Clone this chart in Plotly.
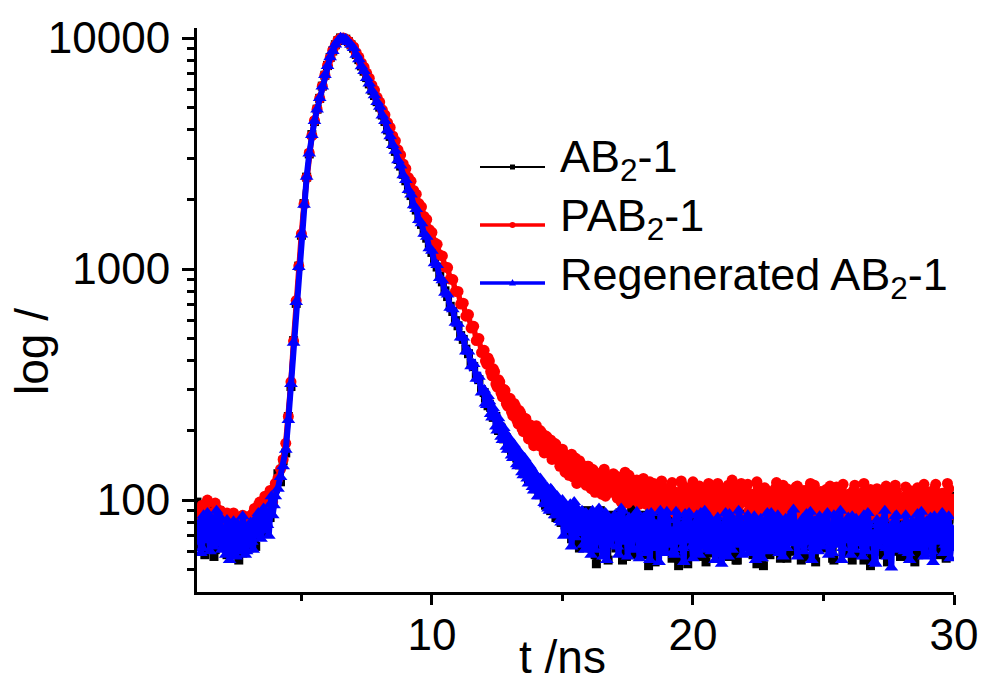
import plotly.graph_objects as go

# time axis (ns), channels every 0.1 ns
t_ns = [
    1.0, 1.1, 1.2, 1.3, 1.4, 1.5, 1.6, 1.7, 1.8, 1.9,
    2.0, 2.1, 2.2, 2.3, 2.4, 2.5, 2.6, 2.7, 2.8, 2.9,
    3.0, 3.1, 3.2, 3.3, 3.4, 3.5, 3.6, 3.7, 3.8, 3.9,
    4.0, 4.1, 4.2, 4.3, 4.4, 4.5, 4.6, 4.7, 4.8, 4.9,
    5.0, 5.1, 5.2, 5.3, 5.4, 5.5, 5.6, 5.7, 5.8, 5.9,
    6.0, 6.1, 6.2, 6.3, 6.4, 6.5, 6.6, 6.7, 6.8, 6.9,
    7.0, 7.1, 7.2, 7.3, 7.4, 7.5, 7.6, 7.7, 7.8, 7.9,
    8.0, 8.1, 8.2, 8.3, 8.4, 8.5, 8.6, 8.7, 8.8, 8.9,
    9.0, 9.1, 9.2, 9.3, 9.4, 9.5, 9.6, 9.7, 9.8, 9.9,
    10.0, 10.1, 10.2, 10.3, 10.4, 10.5, 10.6, 10.7, 10.8, 10.9,
    11.0, 11.1, 11.2, 11.3, 11.4, 11.5, 11.6, 11.7, 11.8, 11.9,
    12.0, 12.1, 12.2, 12.3, 12.4, 12.5, 12.6, 12.7, 12.8, 12.9,
    13.0, 13.1, 13.2, 13.3, 13.4, 13.5, 13.6, 13.7, 13.8, 13.9,
    14.0, 14.1, 14.2, 14.3, 14.4, 14.5, 14.6, 14.7, 14.8, 14.9,
    15.0, 15.1, 15.2, 15.3, 15.4, 15.5, 15.6, 15.7, 15.8, 15.9,
    16.0, 16.1, 16.2, 16.3, 16.4, 16.5, 16.6, 16.7, 16.8, 16.9,
    17.0, 17.1, 17.2, 17.3, 17.4, 17.5, 17.6, 17.7, 17.8, 17.9,
    18.0, 18.1, 18.2, 18.3, 18.4, 18.5, 18.6, 18.7, 18.8, 18.9,
    19.0, 19.1, 19.2, 19.3, 19.4, 19.5, 19.6, 19.7, 19.8, 19.9,
    20.0, 20.1, 20.2, 20.3, 20.4, 20.5, 20.6, 20.7, 20.8, 20.9,
    21.0, 21.1, 21.2, 21.3, 21.4, 21.5, 21.6, 21.7, 21.8, 21.9,
    22.0, 22.1, 22.2, 22.3, 22.4, 22.5, 22.6, 22.7, 22.8, 22.9,
    23.0, 23.1, 23.2, 23.3, 23.4, 23.5, 23.6, 23.7, 23.8, 23.9,
    24.0, 24.1, 24.2, 24.3, 24.4, 24.5, 24.6, 24.7, 24.8, 24.9,
    25.0, 25.1, 25.2, 25.3, 25.4, 25.5, 25.6, 25.7, 25.8, 25.9,
    26.0, 26.1, 26.2, 26.3, 26.4, 26.5, 26.6, 26.7, 26.8, 26.9,
    27.0, 27.1, 27.2, 27.3, 27.4, 27.5, 27.6, 27.7, 27.8, 27.9,
    28.0, 28.1, 28.2, 28.3, 28.4, 28.5, 28.6, 28.7, 28.8, 28.9,
    29.0, 29.1, 29.2, 29.3, 29.4, 29.5, 29.6, 29.7, 29.8, 29.9,
    30.0,
]

# extra in-between channels (noisy baseline and tail are sampled more densely)
t_mid = [
    1.05, 1.15, 1.25, 1.35, 1.45, 1.55, 1.65, 1.75, 1.85, 1.95,
    2.05, 2.15, 2.25, 2.35, 2.45, 2.55, 2.65, 2.75, 2.85, 2.95,
    3.05, 3.15, 3.25, 3.35, 3.45, 3.55, 3.65, 3.75, 3.85, 3.95,
    12.05, 12.15, 12.25, 12.35, 12.45, 12.55, 12.65, 12.75, 12.85, 12.95,
    13.05, 13.15, 13.25, 13.35, 13.45, 13.55, 13.65, 13.75, 13.85, 13.95,
    14.05, 14.15, 14.25, 14.35, 14.45, 14.55, 14.65, 14.75, 14.85, 14.95,
    15.05, 15.15, 15.25, 15.35, 15.45, 15.55, 15.65, 15.75, 15.85, 15.95,
    16.05, 16.15, 16.25, 16.35, 16.45, 16.55, 16.65, 16.75, 16.85, 16.95,
    17.05, 17.15, 17.25, 17.35, 17.45, 17.55, 17.65, 17.75, 17.85, 17.95,
    18.05, 18.15, 18.25, 18.35, 18.45, 18.55, 18.65, 18.75, 18.85, 18.95,
    19.05, 19.15, 19.25, 19.35, 19.45, 19.55, 19.65, 19.75, 19.85, 19.95,
    20.05, 20.15, 20.25, 20.35, 20.45, 20.55, 20.65, 20.75, 20.85, 20.95,
    21.05, 21.15, 21.25, 21.35, 21.45, 21.55, 21.65, 21.75, 21.85, 21.95,
    22.05, 22.15, 22.25, 22.35, 22.45, 22.55, 22.65, 22.75, 22.85, 22.95,
    23.05, 23.15, 23.25, 23.35, 23.45, 23.55, 23.65, 23.75, 23.85, 23.95,
    24.05, 24.15, 24.25, 24.35, 24.45, 24.55, 24.65, 24.75, 24.85, 24.95,
    25.05, 25.15, 25.25, 25.35, 25.45, 25.55, 25.65, 25.75, 25.85, 25.95,
    26.05, 26.15, 26.25, 26.35, 26.45, 26.55, 26.65, 26.75, 26.85, 26.95,
    27.05, 27.15, 27.25, 27.35, 27.45, 27.55, 27.65, 27.75, 27.85, 27.95,
    28.05, 28.15, 28.25, 28.35, 28.45, 28.55, 28.65, 28.75, 28.85, 28.95,
    29.05, 29.15, 29.25, 29.35, 29.45, 29.55, 29.65, 29.75, 29.85, 29.95,
]

# counts: AB2-1
ab2_1 = [
    98, 64, 77, 58, 83, 70, 92, 61, 75, 68,
    79, 63, 71, 85, 60, 74, 55, 80, 66, 72,
    62, 79, 68, 88, 72, 83, 76, 94, 84, 100,
    112, 130, 120, 148, 160, 230, 310, 490, 710, 1030,
    1400, 1920, 2500, 3150, 3820, 4350, 4920, 5480, 6190, 6900,
    7600, 8240, 8790, 9350, 9750, 10010, 9970, 9890, 9640, 9340,
    9030, 8490, 8060, 7570, 7180, 6740, 6330, 5940, 5640, 5300,
    5020, 4640, 4350, 4000, 3750, 3460, 3230, 2980, 2790, 2570,
    2410, 2220, 2080, 1910, 1800, 1650, 1560, 1440, 1360, 1250,
    1180, 1080, 1020, 930, 880, 805, 760, 690, 655, 598,
    568, 515, 496, 450, 430, 390, 378, 342, 332, 300,
    292, 264, 260, 236, 230, 208, 208, 188, 189, 172,
    174, 158, 161, 146, 150, 135, 140, 124, 130, 116,
    120, 108, 115, 100, 108, 94, 104, 90, 98, 86,
    95, 78, 89, 72, 92, 84, 66, 88, 78, 70,
    84, 62, 80, 53, 87, 70, 74, 60, 86, 68,
    78, 66, 88, 55, 73, 82, 64, 90, 58, 76,
    70, 86, 62, 52, 79, 72, 84, 60, 74, 88,
    65, 78, 56, 82, 70, 91, 61, 74, 53, 80,
    72, 60, 85, 66, 77, 54, 81, 69, 88, 63,
    79, 70, 62, 86, 57, 74, 80, 55, 72, 87,
    63, 77, 90, 58, 74, 66, 79, 52, 85, 69,
    75, 60, 82, 70, 64, 88, 56, 73, 80, 67,
    84, 62, 71, 57, 87, 68, 76, 54, 82, 65,
    70, 89, 63, 72, 55, 80, 74, 66, 86, 59,
    68, 55, 79, 83, 64, 74, 61, 77, 52, 85,
    72, 66, 86, 58, 76, 69, 83, 60, 71, 79,
    64, 88, 57, 73, 68, 54, 80, 75, 62, 84,
    77, 61, 90, 68, 58, 79, 70, 56, 83, 98,
    102,
]
ab2_1_mid = [
    72, 88, 60, 79, 66, 84, 57, 74, 90, 65,
    70, 58, 82, 66, 76, 62, 71, 59, 84, 68,
    70, 85, 63, 77, 90, 72, 82, 98, 88, 106,
    276, 256, 252, 228, 230, 200, 205, 184, 186, 168,
    164, 156, 152, 142, 146, 130, 136, 122, 126, 112,
    112, 106, 110, 95, 102, 90, 98, 84, 94, 80,
    86, 74, 92, 68, 80, 88, 62, 82, 72, 90,
    70, 84, 58, 76, 90, 64, 80, 55, 73, 85,
    62, 80, 70, 86, 57, 74, 92, 60, 78, 68,
    82, 58, 75, 88, 66, 54, 79, 70, 86, 61,
    73, 87, 62, 76, 52, 84, 68, 90, 64, 71,
    80, 66, 57, 89, 72, 63, 85, 59, 76, 92,
    58, 83, 74, 65, 90, 68, 55, 81, 64, 76,
    85, 70, 61, 80, 53, 88, 72, 66, 77, 58,
    68, 90, 73, 56, 84, 62, 79, 88, 60, 74,
    71, 55, 86, 77, 63, 82, 58, 90, 69, 76,
    62, 78, 84, 56, 88, 66, 72, 60, 81, 70,
    87, 73, 58, 69, 90, 55, 82, 64, 78, 61,
    60, 84, 71, 79, 54, 88, 66, 75, 90, 57,
    79, 69, 85, 62, 76, 91, 58, 72, 66, 87,
    68, 82, 59, 88, 74, 63, 92, 80, 70, 104,
]

# PAB2-1
pab2_1 = [
    84, 72, 95, 78, 100, 70, 88, 97, 76, 90,
    82, 74, 86, 70, 88, 66, 84, 76, 80, 72,
    85, 78, 92, 80, 98, 86, 104, 90, 110, 98,
    118, 124, 136, 150, 176, 230, 325, 488, 730, 1030,
    1420, 1910, 2490, 3180, 3780, 4390, 4920, 5480, 6190, 6900,
    7610, 8200, 8830, 9310, 9790, 9990, 10010, 9860, 9680, 9370,
    9150, 8640, 8270, 7800, 7480, 7050, 6700, 6250, 5950, 5540,
    5280, 4890, 4650, 4300, 4100, 3770, 3590, 3280, 3120, 2850,
    2720, 2490, 2400, 2190, 2110, 1920, 1860, 1690, 1640, 1480,
    1440, 1300, 1280, 1150, 1140, 1020, 1015, 905, 900, 800,
    800, 705, 712, 625, 635, 555, 565, 490, 500, 435,
    445, 388, 400, 345, 360, 308, 325, 280, 298, 255,
    275, 232, 255, 214, 238, 198, 225, 184, 210, 172,
    210, 172, 196, 160, 188, 178, 150, 176, 166, 140,
    166, 132, 156, 138, 126, 152, 120, 144, 134, 116,
    140, 112, 134, 118, 130, 106, 136, 114, 126, 108,
    128, 102, 120, 110, 132, 97, 114, 122, 100, 116,
    104, 124, 96, 112, 100, 118, 92, 108, 121, 95,
    110, 94, 119, 88, 104, 99, 116, 90, 108, 97,
    120, 91, 104, 112, 86, 102, 118, 93, 107, 89,
    114, 100, 88, 110, 96, 122, 90, 104, 85, 112,
    98, 117, 87, 106, 92, 113, 101, 84, 110, 95,
    108, 89, 119, 97, 86, 104, 112, 91, 100, 83,
    115, 96, 88, 106, 99, 118, 87, 103, 92, 109,
    90, 111, 84, 101, 95, 114, 88, 106, 97, 83,
    104, 92, 116, 86, 99, 108, 82, 96, 111, 89,
    97, 84, 106, 93, 115, 87, 100, 81, 109, 94,
    86, 103, 92, 110, 83, 98, 113, 88, 101, 95,
    108, 85, 96, 117, 89, 102, 84, 99, 112, 90,
    98,
]
pab2_1_mid = [
    90, 77, 84, 96, 74, 86, 79, 92, 83, 71,
    78, 88, 72, 80, 75, 84, 70, 86, 77, 82,
    74, 88, 84, 95, 90, 82, 98, 102, 94, 112,
    400, 412, 360, 370, 318, 332, 290, 302, 262, 276,
    240, 262, 222, 244, 204, 226, 193, 212, 180, 198,
    180, 200, 168, 190, 160, 182, 152, 174, 148, 164,
    150, 136, 128, 158, 140, 118, 148, 130, 124, 140,
    120, 136, 108, 128, 116, 132, 104, 124, 112, 130,
    110, 126, 98, 118, 106, 128, 100, 112, 122, 96,
    116, 98, 108, 120, 94, 110, 104, 117, 90, 112,
    102, 115, 92, 108, 98, 121, 94, 104, 113, 88,
    106, 96, 115, 90, 110, 99, 87, 112, 101, 118,
    92, 108, 98, 116, 88, 105, 112, 94, 118, 100,
    110, 90, 104, 96, 120, 86, 106, 113, 93, 102,
    97, 112, 85, 105, 116, 94, 88, 108, 99, 114,
    101, 86, 110, 94, 112, 97, 116, 85, 106, 98,
    104, 96, 115, 88, 107, 84, 100, 117, 91, 106,
    86, 110, 98, 103, 90, 118, 95, 107, 86, 100,
    112, 93, 88, 104, 98, 109, 91, 116, 86, 102,
    97, 114, 85, 102, 107, 90, 99, 104, 117, 88,
    94, 104, 112, 88, 99, 107, 93, 118, 86, 101,
]

# Regenerated AB2-1
regen_ab2_1 = [
    66, 80, 62, 74, 88, 60, 71, 79, 65, 84,
    70, 58, 76, 64, 81, 57, 69, 62, 78, 60,
    73, 66, 82, 70, 85, 74, 90, 78, 96, 86,
    104, 112, 126, 140, 165, 222, 318, 480, 720, 1020,
    1410, 1900, 2510, 3160, 3800, 4370, 4900, 5500, 6170, 6920,
    7560, 8260, 8780, 9370, 9740, 10020, 9960, 9900, 9620, 9360,
    9050, 8470, 8090, 7550, 7200, 6720, 6350, 5920, 5660, 5280,
    5040, 4620, 4370, 3990, 3760, 3440, 3250, 2960, 2810, 2550,
    2430, 2200, 2100, 1890, 1820, 1630, 1580, 1420, 1380, 1230,
    1200, 1060, 1040, 915, 895, 790, 775, 680, 670, 585,
    580, 505, 505, 440, 440, 380, 388, 335, 342, 292,
    300, 258, 268, 228, 238, 200, 215, 182, 196, 165,
    182, 152, 168, 140, 158, 128, 148, 118, 138, 110,
    128, 104, 120, 97, 114, 90, 110, 86, 104, 82,
    100, 82, 74, 96, 86, 69, 91, 75, 64, 88,
    79, 58, 84, 72, 92, 66, 77, 55, 83, 71,
    86, 63, 74, 90, 68, 57, 80, 71, 87, 62,
    75, 84, 59, 70, 88, 66, 78, 54, 81, 69,
    89, 64, 73, 58, 84, 70, 62, 87, 67, 76,
    56, 80, 69, 88, 63, 74, 85, 60, 71, 82,
    66, 53, 78, 70, 87, 61, 75, 68, 84, 58,
    72, 86, 64, 79, 55, 70, 83, 67, 76, 60,
    88, 65, 73, 59, 81, 70, 62, 85, 68, 77,
    57, 74, 83, 66, 71, 89, 63, 78, 60, 72,
    82, 67, 58, 76, 86, 64, 70, 55, 79, 68,
    74, 85, 61, 69, 80, 57, 73, 88, 65, 71,
    53, 78, 68, 83, 62, 75, 51, 70, 86, 64,
    77, 60, 72, 55, 81, 67, 87, 63, 74, 58,
    70, 84, 54, 76, 66, 82, 59, 73, 85, 62,
    70,
]
regen_ab2_1_mid = [
    75, 59, 86, 67, 72, 83, 63, 90, 70, 61,
    64, 82, 55, 73, 66, 79, 60, 85, 58, 72,
    80, 61, 75, 88, 68, 92, 80, 70, 104, 95,
    262, 282, 236, 250, 208, 226, 188, 205, 170, 186,
    156, 174, 143, 162, 132, 152, 124, 141, 114, 130,
    104, 124, 118, 96, 92, 112, 105, 86, 101, 80,
    70, 94, 85, 63, 98, 78, 72, 90, 61, 84,
    68, 90, 61, 80, 75, 57, 88, 70, 64, 82,
    79, 58, 92, 66, 75, 84, 61, 70, 89, 56,
    64, 78, 87, 55, 81, 62, 74, 90, 68, 59,
    82, 71, 60, 89, 66, 77, 54, 80, 88, 63,
    67, 86, 58, 75, 90, 61, 70, 79, 55, 84,
    74, 62, 88, 57, 69, 81, 64, 90, 72, 66,
    80, 59, 71, 85, 66, 77, 56, 73, 88, 63,
    61, 79, 86, 68, 57, 83, 74, 65, 91, 70,
    78, 66, 60, 87, 74, 55, 81, 69, 85, 63,
    71, 88, 64, 59, 80, 73, 90, 62, 67, 84,
    58, 76, 83, 65, 72, 86, 60, 79, 69, 54,
    82, 63, 74, 90, 57, 68, 79, 85, 61, 73,
    66, 86, 59, 78, 70, 62, 75, 89, 57, 81,
    76, 60, 85, 69, 73, 88, 64, 79, 56, 74,
]

series_names = ["AB<sub>2</sub>-1", "PAB<sub>2</sub>-1", "Regenerated AB<sub>2</sub>-1"]
x_ticks = [10, 20, 30]
x_minor = [5, 15, 25]
y_ticks = [100, 1000, 10000]
y_tick_text = ["100", "1000", "10000"]
y_minor = [50, 60, 70, 80, 90, 200, 300, 400, 500, 600, 700, 800, 900,
           2000, 3000, 4000, 5000, 6000, 7000, 8000, 9000]

FONT = "Arial, Liberation Sans, Arimo, sans-serif"
colors = ["#000000", "#ff0000", "#0000ff"]
symbols = ["square", "circle", "triangle-up"]
msizes = [9, 11, 12]
lwidths = [5, 5.5, 6]


def merged(main, mid):
    pts = sorted(list(zip(t_ns, main)) + list(zip(t_mid, mid)))
    return [p[0] for p in pts], [p[1] for p in pts]


fig = go.Figure()
all_series = [(ab2_1, ab2_1_mid), (pab2_1, pab2_1_mid), (regen_ab2_1, regen_ab2_1_mid)]
for (main, mid), name, c, s, ms, lw in zip(all_series, series_names, colors, symbols, msizes, lwidths):
    xs, ys = merged(main, mid)
    fig.add_trace(go.Scatter(
        x=xs, y=ys, name=name, mode="lines+markers",
        line=dict(color=c, width=lw),
        marker=dict(symbol=s, size=ms, color=c, line=dict(width=0)),
        showlegend=False, cliponaxis=True,
    ))

L, R, T, B = 197, 30, 28, 90
W, H = 984, 682
PW, PH = W - L - R, H - T - B


def px(xp):
    return (xp - L) / PW


def py(yp):
    return (H - B - yp) / PH


# custom legend (long sample lines like the original)
line_rows = [167, 225, 283]
text_rows = [159, 218, 277]
widths = [2, 3.5, 3.5]
shapes = []
annotations = []
for i, (name, c, ly, ty, lw) in enumerate(zip(series_names, colors, line_rows, text_rows, widths)):
    shapes.append(dict(type="line", xref="paper", yref="paper",
                       x0=px(480), x1=px(545), y0=py(ly), y1=py(ly),
                       line=dict(color=c, width=lw)))
    xa, ya = px(512.5), py(ly)
    if symbols[i] == "square":
        shapes.append(dict(type="rect", xref="paper", yref="paper",
                           xsizemode="pixel", ysizemode="pixel", xanchor=xa, yanchor=ya,
                           x0=-2.5, x1=2.5, y0=-2.5, y1=2.5,
                           fillcolor=c, line=dict(width=0)))
    elif symbols[i] == "circle":
        shapes.append(dict(type="circle", xref="paper", yref="paper",
                           xsizemode="pixel", ysizemode="pixel", xanchor=xa, yanchor=ya,
                           x0=-3, x1=3, y0=-3, y1=3,
                           fillcolor=c, line=dict(width=0)))
    else:
        shapes.append(dict(type="path", xref="paper", yref="paper",
                           xsizemode="pixel", ysizemode="pixel", xanchor=xa, yanchor=ya,
                           path="M-3.5,-2.5 L3.5,-2.5 L0,4 Z",
                           fillcolor=c, line=dict(width=0)))
    annotations.append(dict(text=name, xref="paper", yref="paper",
                            x=px(558), y=py(ty), xanchor="left", yanchor="middle",
                            showarrow=False, font=dict(family=FONT, size=45, color="black")))

annotations.append(dict(text="log /", xref="paper", yref="paper", x=px(32), y=py(352),
                        xanchor="center", yanchor="middle", textangle=-90, showarrow=False,
                        font=dict(family=FONT, size=46, color="black")))
annotations.append(dict(text="t /ns", xref="paper", yref="paper", x=px(562), y=py(657),
                        xanchor="center", yanchor="middle", showarrow=False,
                        font=dict(family=FONT, size=46, color="black")))

fig.update_layout(
    width=W, height=H,
    margin=dict(l=L, r=R, t=T, b=B, pad=0, autoexpand=False),
    paper_bgcolor="white", plot_bgcolor="white",
    font=dict(family=FONT, size=44, color="black"),
    shapes=shapes, annotations=annotations,
    showlegend=False,
)
fig.update_xaxes(
    automargin=False,
    range=[1, 30], tickmode="array", tickvals=x_ticks, ticktext=[str(v) for v in x_ticks],
    ticks="outside", ticklen=10, tickwidth=3, tickcolor="black",
    showline=True, linewidth=3, linecolor="black", mirror=False,
    showgrid=False, zeroline=False, tickfont=dict(size=44), ticklabelstandoff=-8,
    minor=dict(tickvals=x_minor, ticks="outside", ticklen=6, tickwidth=3, tickcolor="black", showgrid=False),
)
fig.update_yaxes(
    automargin=False,
    type="log", range=[1.60206, 4.0434], tickmode="array", tickvals=y_ticks, ticktext=y_tick_text,
    ticks="outside", ticklen=12, tickwidth=3, tickcolor="black",
    showline=True, linewidth=3, linecolor="black", mirror=False,
    showgrid=False, zeroline=False, tickfont=dict(size=44), ticklabelstandoff=3,
    minor=dict(tickvals=y_minor, ticks="outside", ticklen=7, tickwidth=3, tickcolor="black", showgrid=False),
)

fig.write_html("out.html")
